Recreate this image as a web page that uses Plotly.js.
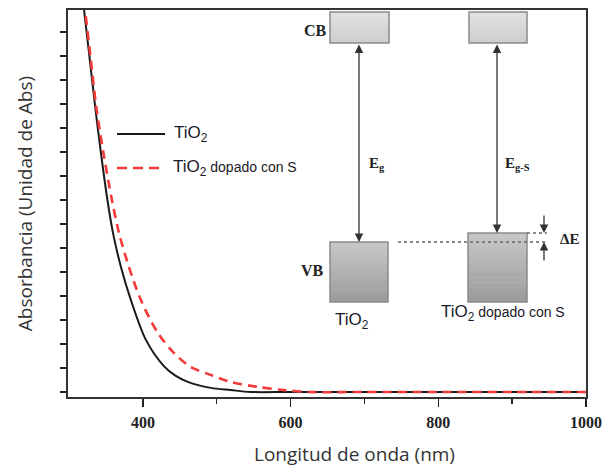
<!DOCTYPE html>
<html>
<head>
<meta charset="utf-8">
<script src="https://cdn.plot.ly/plotly-3.0.1.min.js"></script>
<style>
  html, body { margin: 0; padding: 0; background: #ffffff; }
  #chart { width: 604px; height: 468px; }
</style>
</head>
<body>
<div id="chart"></div>
<script>
// ---- Data ----
const wavelengthTiO2 = [316, 320.3, 327.7, 335.1, 343.2, 352.0, 359.5, 370.3, 383.8, 404.1, 428.4, 444.0, 460.8, 491.9, 518.9, 546, 600, 700, 800, 900, 1000];
const absTiO2        = [17.0, 15.92, 13.96, 11.96, 9.96, 8.0, 6.63, 5.21, 3.83, 2.17, 1.08, 0.68, 0.42, 0.17, 0.08, 0.0, 0.0, 0.0, 0.0, 0.0, 0.0];

const wavelengthTiO2S = [317, 321.6, 329.1, 336.5, 346.6, 358.1, 367.6, 381.1, 397.3, 420.3, 441.9, 464.9, 491.9, 518.9, 555.4, 590.5, 623, 700, 800, 900, 1000];
const absTiO2S        = [16.9, 15.92, 13.96, 11.96, 9.96, 8.0, 6.63, 5.21, 3.83, 2.46, 1.63, 1.04, 0.71, 0.42, 0.21, 0.08, 0.0, 0.0, 0.0, 0.0, 0.0];

const seriesNames = ["TiO<sub>2</sub>", "TiO<sub>2</sub><span style='font-size:14px'> dopado con S</span>"];
const xTickVals = [400, 600, 800, 1000];
const xTickText = ["400", "600", "800", "1000"];
const xMinorVals = [500, 700, 900];

// ---- Layout helpers (pixel -> plot-domain fraction) ----
const L = 68, R = 586, T = 10, B = 397;
const W = R - L, H = B - T;
const fx = p => (p - L) / W;
const fy = p => (B - p) / H;

const traces = [
  {
    x: wavelengthTiO2, y: absTiO2, name: seriesNames[0], type: 'scatter', mode: 'lines',
    line: { color: '#1a1a1a', width: 2, shape: 'spline', smoothing: 0.9 }, showlegend: false
  },
  {
    x: wavelengthTiO2S, y: absTiO2S, name: seriesNames[1], type: 'scatter', mode: 'lines',
    line: { color: '#f23a3a', width: 2.6, dash: '9px,6px', shape: 'spline', smoothing: 0.9 }, showlegend: false
  }
];

const shapes = [];
const annotations = [];

function hexMix(c1, c2, t) {
  const a = parseInt(c1.slice(1), 16), b = parseInt(c2.slice(1), 16);
  const r = Math.round(((a >> 16) & 255) * (1 - t) + ((b >> 16) & 255) * t);
  const g = Math.round(((a >> 8) & 255) * (1 - t) + ((b >> 8) & 255) * t);
  const bl = Math.round((a & 255) * (1 - t) + (b & 255) * t);
  return 'rgb(' + r + ',' + g + ',' + bl + ')';
}

function gradBox(x0, y0, x1, y1, cTop, cBot) {
  const n = 14;
  for (let i = 0; i < n; i++) {
    const ya = y0 + (y1 - y0) * i / n, yb = y0 + (y1 - y0) * (i + 1) / n + 0.5;
    shapes.push({ type: 'rect', xref: 'paper', yref: 'paper', x0: fx(x0), x1: fx(x1), y0: fy(ya), y1: fy(Math.min(yb, y1)),
      fillcolor: hexMix(cTop, cBot, i / (n - 1)), line: { width: 0 }, layer: 'above' });
  }
  shapes.push({ type: 'rect', xref: 'paper', yref: 'paper', x0: fx(x0), x1: fx(x1), y0: fy(y0), y1: fy(y1),
    fillcolor: 'rgba(0,0,0,0)', line: { color: '#8a8a8a', width: 1.5 }, layer: 'above' });
}

// Band boxes
gradBox(330, 12, 389, 43, '#e2e2e2', '#cdcdcd');
gradBox(469, 12, 527, 43, '#e2e2e2', '#cdcdcd');
gradBox(330, 242, 388, 302, '#c6c6c6', '#9c9c9c');
gradBox(468, 233, 527, 302, '#c6c6c6', '#9c9c9c');

// dotted reference lines
shapes.push({ type: 'line', xref: 'paper', yref: 'paper', x0: fx(398), x1: fx(547), y0: fy(242), y1: fy(242),
  line: { color: '#666', width: 1.5, dash: 'dot' } });
shapes.push({ type: 'line', xref: 'paper', yref: 'paper', x0: fx(527), x1: fx(547), y0: fy(233), y1: fy(233),
  line: { color: '#666', width: 1.5, dash: 'dot' } });

// Legend (drawn by hand to match the reference)
shapes.push({ type: 'line', xref: 'paper', yref: 'paper', x0: fx(117), x1: fx(165), y0: fy(134), y1: fy(134),
  line: { color: '#1a1a1a', width: 2 } });
shapes.push({ type: 'line', xref: 'paper', yref: 'paper', x0: fx(117), x1: fx(165), y0: fy(168), y1: fy(168),
  line: { color: '#f23a3a', width: 2.6, dash: '10px,6px' } });

function arrow(x, yHead, yTail, both) {
  annotations.push({ xref: 'x domain', yref: 'y domain', axref: 'x domain', ayref: 'y domain',
    x: fx(x), y: fy(yHead), ax: fx(x), ay: fy(yTail), text: '', showarrow: true,
    arrowhead: 2, arrowsize: 1.3, arrowwidth: 1.3, arrowcolor: '#333',
    arrowside: both ? 'end+start' : 'end', startarrowhead: 2, startarrowsize: 1.3, standoff: 0, startstandoff: 0 });
}
arrow(359, 242, 43, true);
arrow(497, 233, 43, true);
arrow(544, 233, 214, false);
arrow(544, 242, 262, false);

function label(text, x, y, font, anchor) {
  annotations.push({ xref: 'x domain', yref: 'y domain', x: fx(x), y: fy(y), text: text, showarrow: false,
    xanchor: anchor || 'center', yanchor: 'middle', font: font });
}
const serifBold = { family: 'Liberation Serif, Times New Roman, serif', size: 16, color: '#222', weight: 'bold' };
const sans = { family: 'Liberation Sans, Arial, sans-serif', size: 17, color: '#1a1a2a' };

label('CB', 315, 31, serifBold);
label('VB', 312, 270, serifBold);
label('E<sub>g</sub>', 377, 164, Object.assign({}, serifBold, { size: 15 }));
label('E<sub>g-S</sub>', 517, 164, Object.assign({}, serifBold, { size: 15 }));
label('\u0394E', 569, 239, Object.assign({}, serifBold, { size: 15 }));
label('TiO<sub>2</sub>', 352, 321, sans);
label("TiO<sub>2</sub><span style='font-size:14px'> dopado con S</span>", 503, 313, sans);
label(seriesNames[0], 172, 134, sans, 'left');
label(seriesNames[1], 171, 168, sans, 'left');

const titleFont = { family: 'Open Sans, Lato, sans-serif', size: 19, color: '#333' };

// x-axis title (offset to the right as in the reference)
annotations.push({ xref: 'paper', yref: 'paper', x: fx(354), y: fy(454), text: 'Longitud de onda (nm)', showarrow: false,
  xanchor: 'center', yanchor: 'middle', font: titleFont });

const layout = {
  width: 604, height: 468,
  margin: { l: L, r: 604 - R, t: T, b: 468 - B, pad: 0 },
  paper_bgcolor: '#ffffff', plot_bgcolor: '#ffffff',
  showlegend: false,
  xaxis: {
    range: [298.6, 1000], tickmode: 'array', tickvals: xTickVals, ticktext: xTickText,
    ticks: 'outside', ticklen: 8, tickwidth: 1.5, tickcolor: '#222',
    minor: { tickmode: 'array', tickvals: xMinorVals, ticks: 'outside', ticklen: 5, tickwidth: 1.5, tickcolor: '#222' },
    showline: true, linecolor: '#333', linewidth: 2, mirror: true,
    showgrid: false, zeroline: false,
    tickfont: { family: 'Liberation Serif, Times New Roman, serif', size: 16, color: '#222', weight: 'bold' },
    ticklabelstandoff: 2
  },
  yaxis: {
    range: [-0.21, 15.92], dtick: 1, tick0: 0,
    ticks: 'outside', ticklen: 6, tickwidth: 1.5, tickcolor: '#222',
    showticklabels: false,
    showline: true, linecolor: '#333', linewidth: 2, mirror: true,
    showgrid: false, zeroline: false,
    title: { text: 'Absorbancia (Unidad de Abs)', standoff: 22, font: titleFont }
  },
  shapes: shapes,
  annotations: annotations
};

Plotly.newPlot('chart', traces, layout, { staticPlot: true, displayModeBar: false });
</script>
</body>
</html>
